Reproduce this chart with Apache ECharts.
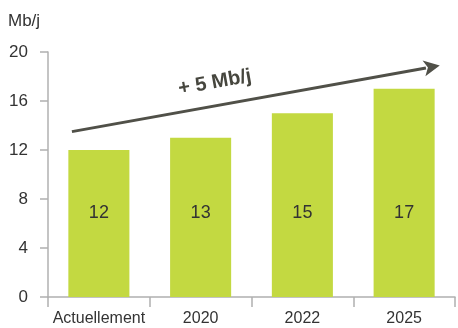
<!DOCTYPE html>
<html><head><meta charset="utf-8">
<script src="https://cdn.jsdelivr.net/npm/echarts@6/dist/echarts.min.js"></script>
<style>html,body{margin:0;padding:0;background:#fff}#c{width:458px;height:328px}</style>
</head><body><div id="c"></div>
<script>
var categories = ['Actuellement', '2020', '2022', '2025'];
var values = [12, 13, 15, 17];
var yTicks = [0, 4, 8, 12, 16, 20];
var unitLabel = 'Mb/j';
var arrowText = '+ 5 Mb/j';
var arrowStart = [-0.265, 13.5];
var arrowEnd = [3.35, 18.9];

var FONT = '"Liberation Sans", Arial, sans-serif';
var chart = echarts.init(document.getElementById('c'), null, {renderer: 'canvas'});
chart.setOption({
  animation: false,
  grid: {left: 48, right: 3, top: 52, bottom: 31, containLabel: false},
  xAxis: {
    type: 'category', data: categories,
    axisLine: {lineStyle: {color: '#b0b0b0', width: 1.5}},
    axisTick: {show: true, length: 10, lineStyle: {color: '#b0b0b0', width: 1.5}},
    axisLabel: {color: '#333', fontSize: 16, fontFamily: FONT, margin: 14, interval: 0}
  },
  yAxis: {
    type: 'value', min: yTicks[0], max: yTicks[yTicks.length - 1], interval: 4,
    name: unitLabel, nameLocation: 'end', nameGap: 22,
    nameTextStyle: {color: '#333', fontSize: 17, fontFamily: FONT, align: 'left', padding: [0, 0, 0, -40]},
    axisLine: {show: true, lineStyle: {color: '#b0b0b0', width: 1.5}},
    axisTick: {show: true, length: 8, lineStyle: {color: '#b0b0b0', width: 1.5}},
    splitLine: {show: false},
    axisLabel: {color: '#333', fontSize: 17, fontFamily: FONT, margin: 20}
  },
  series: [{
    type: 'bar', data: values, barWidth: '60%',
    itemStyle: {color: '#c3d941'},
    label: {show: true, position: 'insideBottom', distance: 75, color: '#333', fontSize: 18, fontFamily: FONT}
  }]
});
function toPx(pt) {
  var a = chart.convertToPixel({gridIndex: 0}, [0, pt[1]]);
  var b = chart.convertToPixel({gridIndex: 0}, [1, pt[1]]);
  return [a[0] + pt[0] * (b[0] - a[0]), a[1]];
}
var s = toPx(arrowStart), e = toPx(arrowEnd);
var ang = Math.atan2(e[1] - s[1], e[0] - s[0]);
var headLen = 16, headHalf = 8;
var bx = e[0] - headLen * Math.cos(ang), by = e[1] - headLen * Math.sin(ang);
var nx = -Math.sin(ang), ny = Math.cos(ang);
var mx = (s[0] + e[0]) / 2, my = (s[1] + e[1]) / 2;
chart.setOption({
  graphic: [
    {type: 'line', shape: {x1: s[0], y1: s[1], x2: bx + 2 * Math.cos(ang), y2: by + 2 * Math.sin(ang)},
     style: {stroke: '#505048', lineWidth: 3}},
    {type: 'polygon', shape: {points: [[e[0], e[1]], [bx + nx * headHalf, by + ny * headHalf], [bx + 4 * Math.cos(ang), by + 4 * Math.sin(ang)], [bx - nx * headHalf, by - ny * headHalf]]},
     style: {fill: '#505048'}},
    {type: 'text', x: mx - 41, y: my - 16, rotation: -ang,
     style: {text: arrowText, fill: '#46463e', font: 'bold 20px ' + FONT, textAlign: 'center', textVerticalAlign: 'middle'}}
  ]
});
</script></body></html>
